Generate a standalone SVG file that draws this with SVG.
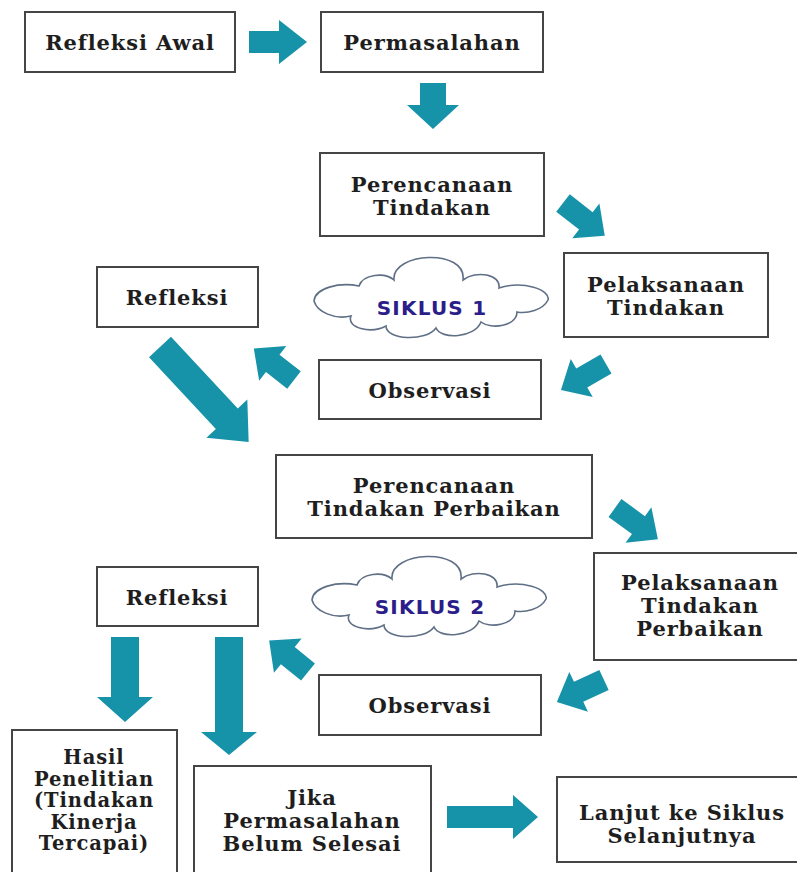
<svg xmlns="http://www.w3.org/2000/svg" width="797" height="872" viewBox="0 0 797 872">
<defs>
<style>
.box{fill:#ffffff;stroke:#454545;stroke-width:2}
.t{font-family:"DejaVu Serif",serif;font-weight:bold;font-size:21px;fill:#1e1e1e;text-anchor:middle;letter-spacing:0.9px}
.s{font-size:19.5px}
.arr{fill:#1693a8}
.cloud{fill:#ffffff;stroke:#5f6f86;stroke-width:1.6}
.ct{font-family:"DejaVu Sans",sans-serif;font-weight:bold;font-size:20px;fill:#2b1e8a;text-anchor:middle;letter-spacing:1.2px}
</style>
<path id="cloudshape" d="M -117,3 C -116,-10 -92,-16 -72,-12 C -68,-24 -46,-26 -37,-18 C -40,-46 36,-50 32,-18 C 45,-28 70,-24 68,-10 C 92,-18 120,-8 117,2 C 112,12 96,16 86,14 C 86,28 60,32 50,24 C 44,40 10,42 5,30 C -5,44 -45,42 -45,28 C -60,36 -85,30 -80,18 C -96,22 -114,14 -117,3 Z"/>
</defs>
<rect width="797" height="872" fill="#ffffff"/>

<g id="connectors">
<path class="arr" transform="translate(249,42)" d="M0,-11 H30 V-22 L58,0 L30,22 V11 H0 Z"/>
<path class="arr" transform="translate(433,83) rotate(90)" d="M0,-13 H22 V-26 L46,0 L22,26 V13 H0 Z"/>
<path class="arr" transform="translate(563,203) rotate(38)" d="M0,-11 H29 V-22 L53,0 L29,22 V11 H0 Z"/>
<path class="arr" transform="translate(606,364) rotate(150)" d="M0,-11 H28 V-22 L52,0 L28,22 V11 H0 Z"/>
<path class="arr" transform="translate(294,380) rotate(-142)" d="M0,-11 H27 V-22 L51,0 L27,22 V11 H0 Z"/>
<path class="arr" transform="translate(160,347) rotate(47)" d="M0,-15 H98 V-28 L130,0 L98,28 V15 H0 Z"/>
<path class="arr" transform="translate(615,508) rotate(36)" d="M0,-11 H29 V-22 L53,0 L29,22 V11 H0 Z"/>
<path class="arr" transform="translate(604,680) rotate(155)" d="M0,-11 H28 V-22 L52,0 L28,22 V11 H0 Z"/>
<path class="arr" transform="translate(308,672) rotate(-141)" d="M0,-11 H26 V-22 L50,0 L26,22 V11 H0 Z"/>
<path class="arr" transform="translate(125,637) rotate(90)" d="M0,-14 H60 V-28 L85,0 L60,28 V14 H0 Z"/>
<path class="arr" transform="translate(229,637) rotate(90)" d="M0,-14 H95 V-28 L118,0 L95,28 V14 H0 Z"/>
<path class="arr" transform="translate(447,817)" d="M0,-11 H66 V-22 L91,0 L66,22 V11 H0 Z"/>
</g>

<g id="refleksi-awal"><rect class="box" x="25" y="12" width="210" height="60"/><text class="t" x="130" y="50">Refleksi Awal</text></g>
<g id="permasalahan"><rect class="box" x="321" y="12" width="222" height="60"/><text class="t" x="432" y="50">Permasalahan</text></g>
<g id="perencanaan-tindakan"><rect class="box" x="320" y="153" width="224" height="83"/><text class="t" x="432" y="192">Perencanaan</text><text class="t" x="432" y="215">Tindakan</text></g>
<g id="pelaksanaan-tindakan"><rect class="box" x="564" y="253" width="204" height="84"/><text class="t" x="666" y="292">Pelaksanaan</text><text class="t" x="666" y="315">Tindakan</text></g>
<g id="refleksi-1"><rect class="box" x="97" y="267" width="161" height="60"/><text class="t" x="177" y="305">Refleksi</text></g>
<g id="siklus-1"><use href="#cloudshape" class="cloud" transform="translate(431,298)"/><text class="ct" x="432" y="315">SIKLUS 1</text></g>
<g id="observasi-1"><rect class="box" x="319" y="360" width="222" height="59"/><text class="t" x="430" y="398">Observasi</text></g>
<g id="perencanaan-perbaikan"><rect class="box" x="276" y="455" width="316" height="83"/><text class="t" x="434" y="493">Perencanaan</text><text class="t" x="434" y="516">Tindakan Perbaikan</text></g>
<g id="pelaksanaan-perbaikan"><rect class="box" x="594" y="553" width="210" height="107"/><text class="t" x="700" y="590">Pelaksanaan</text><text class="t" x="700" y="613">Tindakan</text><text class="t" x="700" y="636">Perbaikan</text></g>
<g id="refleksi-2"><rect class="box" x="97" y="567" width="161" height="59"/><text class="t" x="177" y="605">Refleksi</text></g>
<g id="siklus-2"><use href="#cloudshape" class="cloud" transform="translate(429,597)"/><text class="ct" x="430" y="614">SIKLUS 2</text></g>
<g id="observasi-2"><rect class="box" x="319" y="675" width="222" height="60"/><text class="t" x="430" y="713">Observasi</text></g>
<g id="hasil-penelitian"><rect class="box" x="12" y="730" width="165" height="150"/><text class="t s" x="94" y="764">Hasil</text><text class="t s" x="94" y="785.5">Penelitian</text><text class="t s" x="94" y="807">(Tindakan</text><text class="t s" x="94" y="828.5">Kinerja</text><text class="t s" x="94" y="850">Tercapai)</text></g>
<g id="jika-permasalahan"><rect class="box" x="194" y="766" width="237" height="115"/><text class="t" x="312" y="805">Jika</text><text class="t" x="312" y="828">Permasalahan</text><text class="t" x="312" y="851">Belum Selesai</text></g>
<g id="lanjut-siklus"><rect class="box" x="557" y="777" width="250" height="85"/><text class="t" x="682" y="820">Lanjut ke Siklus</text><text class="t" x="682" y="843">Selanjutnya</text></g>
</svg>
